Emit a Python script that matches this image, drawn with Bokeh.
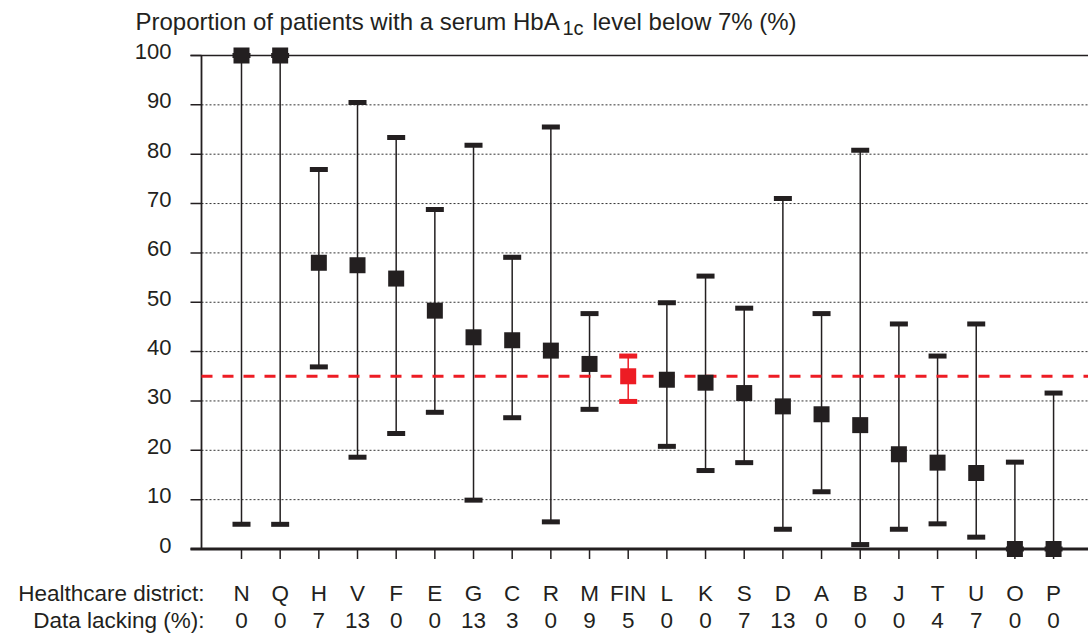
from bokeh.plotting import figure
from bokeh.models import Range1d, Label
from bokeh.embed import file_html
from bokeh.resources import INLINE

# ---- data ----
districts = ["N", "Q", "H", "V", "F", "E", "G", "C", "R", "M", "FIN",
             "L", "K", "S", "D", "A", "B", "J", "T", "U", "O", "P"]
proportion = [100, 100, 58.0, 57.5, 54.8, 48.3, 42.9, 42.3, 40.2, 37.5, 35.0,
              34.3, 33.7, 31.6, 28.9, 27.3, 25.1, 19.2, 17.5, 15.4, 0, 0]
ci_lower = [5.0, 5.0, 36.9, 18.6, 23.4, 27.7, 9.9, 26.6, 5.5, 28.3, 29.9,
            20.8, 15.9, 17.5, 4.0, 11.6, 0.9, 4.0, 5.1, 2.4, 0, 0]
ci_upper = [100, 100, 76.9, 90.5, 83.4, 68.8, 81.8, 59.1, 85.5, 47.7, 39.1,
            49.9, 55.3, 48.8, 71.0, 47.7, 80.8, 45.6, 39.1, 45.6, 17.6, 31.6]
data_lacking = [0, 0, 7, 13, 0, 0, 13, 3, 0, 9, 5, 0, 0, 7, 13, 0, 0, 0, 4, 7, 0, 0]
national_level = 35
national_name = "FIN"
y_ticks = [0, 10, 20, 30, 40, 50, 60, 70, 80, 90, 100]

BLACK = "#231f20"
RED = "#ed1c24"
FONT = "Liberation Sans"

# ---- pixel <-> data helpers for layout ----
W, H = 1088, 639
PX0, DX = 241.0, 38.67      # pixel of first category, pixels per category
PY0, DY = 548.5, 4.935      # pixel of y=0, pixels per unit


def xd(px):
    return (px - PX0) / DX


def yd(py):
    return (PY0 - py) / DY


xl, xr = xd(0), xd(W)
yb, yt = yd(H), yd(0)
x_tick_left = xd(190)
x_axis_pos = xd(201)

p = figure(width=W, height=H, x_range=Range1d(xl, xr), y_range=Range1d(yb, yt),
           output_backend="svg", toolbar_location=None,
           x_axis_location=None, y_axis_location=None,
           min_border=0, min_border_left=0, min_border_right=0,
           min_border_top=0, min_border_bottom=0)
p.outline_line_color = None
p.background_fill_color = "white"
p.border_fill_color = "white"
p.grid.visible = False

n_grid = y_ticks[1:-1]
# dotted horizontal grid lines
p.segment(x0=[x_axis_pos] * len(n_grid), y0=n_grid, x1=[xr] * len(n_grid), y1=n_grid,
          line_color="#333333", line_width=1, line_dash="2 2")
# y tick marks
p.segment(x0=[x_tick_left] * len(y_ticks), y0=y_ticks, x1=[x_axis_pos] * len(y_ticks), y1=y_ticks,
          line_color=BLACK, line_width=1.5)
# top line at 100 and zero axis line
p.segment(x0=[x_tick_left], y0=[100], x1=[xr], y1=[100], line_color=BLACK, line_width=1.5)
p.segment(x0=[x_tick_left], y0=[0], x1=[xr], y1=[0], line_color=BLACK, line_width=3)
# vertical y axis line
p.segment(x0=[x_axis_pos], y0=[0], x1=[x_axis_pos], y1=[100], line_color=BLACK, line_width=1.8)

idx = list(range(len(districts)))
# x ticks below the zero line
p.segment(x0=idx, y0=[0] * len(idx), x1=idx, y1=[-10 / DY] * len(idx),
          line_color=BLACK, line_width=1.5)

cols = [RED if d == national_name else BLACK for d in districts]
# confidence intervals
p.segment(x0=idx, y0=ci_lower, x1=idx, y1=ci_upper, line_color=cols, line_width=1.5)
p.rect(x=idx, y=ci_lower, width=18, height=5, width_units="screen", height_units="screen",
       fill_color=cols, line_color=None)
p.rect(x=idx, y=ci_upper, width=18, height=5, width_units="screen", height_units="screen",
       fill_color=cols, line_color=None)

# national reference line
p.segment(x0=[x_axis_pos], y0=[national_level], x1=[xr], y1=[national_level],
          line_color=RED, line_width=3, line_dash="11 10")

# point estimates
p.scatter(x=idx, y=proportion, marker="square", size=16, fill_color=cols, line_color=None)


def txt(x, y, s, size, align):
    p.add_layout(Label(x=x, y=y, text=s, text_font=FONT, text_font_size=size,
                       text_color=BLACK, text_align=align, text_baseline="middle"))


# y tick labels
for t in y_ticks:
    txt(xd(171), t + 4 / DY, str(t), "22px", "right")

# title with subscript
txt(xd(135), yd(21), "Proportion of patients with a serum HbA", "24px", "left")
txt(xd(562), yd(27), "1c", "20px", "left")
txt(xd(592), yd(21), "level below 7% (%)", "24px", "left")

# bottom rows
row1, row2 = yd(592.5), yd(620)
txt(xd(204), row1, "Healthcare district:", "22.5px", "right")
txt(xd(204), row2, "Data lacking (%):", "22.5px", "right")
for i, (d, dl) in enumerate(zip(districts, data_lacking)):
    txt(i, row1, d, "22.5px", "center")
    txt(i, row2, str(dl), "22.5px", "center")

open("out.html", "w").write(file_html(p, INLINE))
